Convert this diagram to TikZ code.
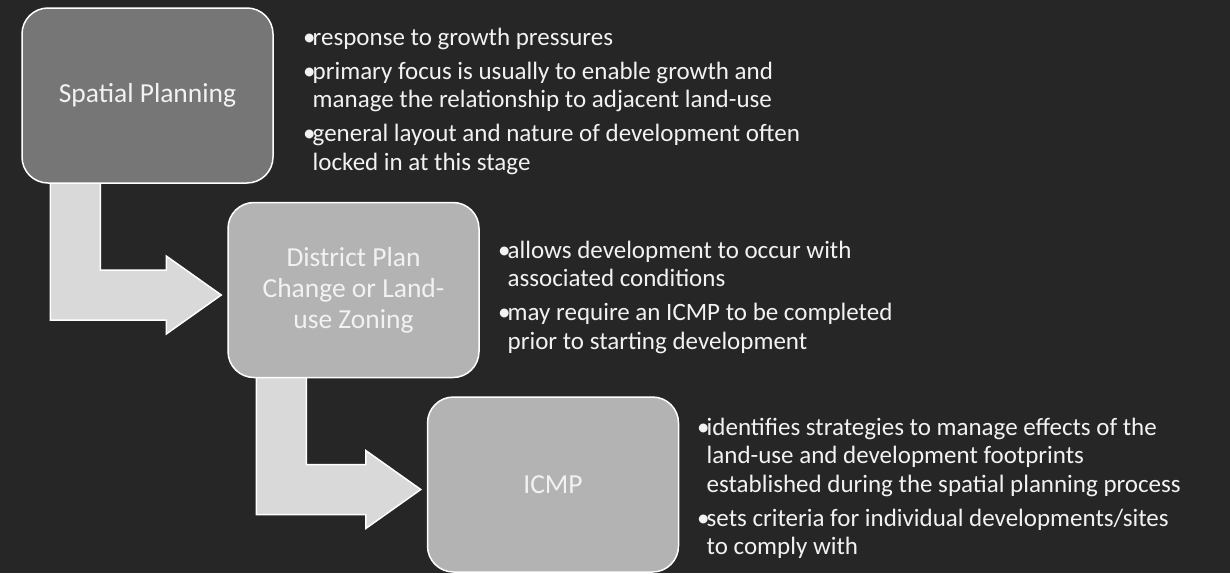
\documentclass[tikz,border=0pt]{standalone}
\usepackage{fontspec}
\setmainfont{Carlito}
\usetikzlibrary{calc}

\definecolor{slidebg}{HTML}{262626}
\definecolor{darkstage}{HTML}{767676}
\definecolor{lightstage}{HTML}{B3B3B3}
\definecolor{arrowgray}{HTML}{D9D9D9}
\definecolor{notetext}{HTML}{F2F2F2}

\pgfdeclarelayer{bg}
\pgfdeclarelayer{arrows}
\pgfsetlayers{bg,arrows,main}

\tikzset{
  stage/.style={draw=white, line width=1.5pt, rounded corners=26pt,
    minimum width=251pt, minimum height=175pt, inner sep=0pt,
    text=notetext, align=center, font=\fontsize{27.5}{31}\selectfont},
  notes/.style={anchor=north west, inner sep=0pt, align=left,
    text=notetext, font=\fontsize{25}{28.5}\selectfont},
  bentarrow/.style={fill=arrowgray, draw=white, line width=1.5pt}
}

\newcommand{\blt}{\makebox[9.5pt][l]{•}}
\newcommand{\ind}{\hspace*{9.5pt}}

% bent arrow from the foot of one stage to the side of the next
\newcommand{\stagearrow}[2]{%
  \coordinate (s) at ($(#1.south west)+(29,-10)$);
  \coordinate (t) at ($(#2.west)+(-6,5)$);
  \draw[bentarrow] (s) |- ($(t)+(-55,25)$) -- ++(0,14) -- (t)
    -- ($(t)+(-55,-39)$) -- ++(0,14) -| ($(s)+(50,0)$) -- cycle;
}

\begin{document}
\begin{tikzpicture}[x=1pt,y=-1pt]
  \useasboundingbox (0,0) rectangle (1230,573);
  \begin{pgfonlayer}{bg}
    \fill[slidebg] (0,0) rectangle (1230,573);
  \end{pgfonlayer}

  % stages
  \node[stage, fill=darkstage] (splan) at (147.5,95.5) {Spatial Planning};
  \node[stage, fill=lightstage] (dplan) at (353.5,290) {District Plan\\Change or Land-\\use Zoning};
  \node[stage, fill=lightstage] (icmp) at (553,484.5) {ICMP};

  % arrows
  \begin{pgfonlayer}{arrows}
    \stagearrow{splan}{dplan}
    \stagearrow{dplan}{icmp}
  \end{pgfonlayer}

  % notes (top of first line = baseline - strut)
  \node[notes] (splan-notes) at (303,25) {\strut\blt response to growth pressures\\[5.5pt]
    \blt primary focus is usually to enable growth and\\
    \ind manage the relationship to adjacent land-use\\[5.5pt]
    \blt general layout and nature of development often\\
    \ind locked in at this stage};
  \node[notes] (dplan-notes) at (498,238) {\strut\blt allows development to occur with\\
    \ind associated conditions\\[5.5pt]
    \blt may require an ICMP to be completed\\
    \ind prior to starting development};
  \node[notes] (icmp-notes) at (697,415) {\strut\blt identifies strategies to manage effects of the\\
    \ind land-use and development footprints\\
    \ind established during the spatial planning process\\[5.5pt]
    \blt sets criteria for individual developments/sites\\
    \ind to comply with};
\end{tikzpicture}
\end{document}
